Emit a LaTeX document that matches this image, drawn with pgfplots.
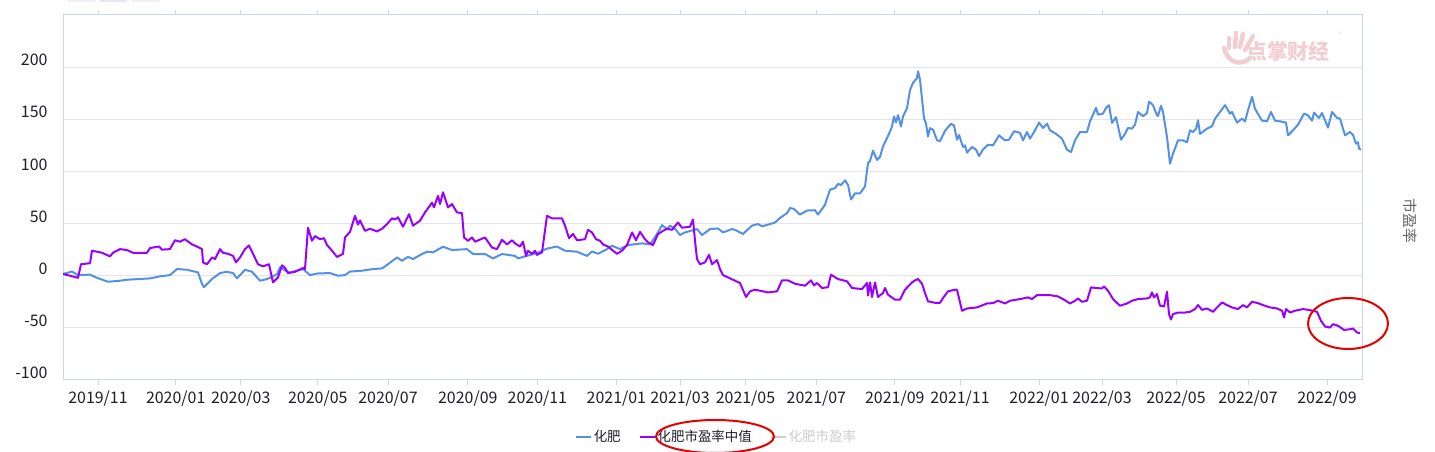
\documentclass[border=0pt]{standalone}
\usepackage{fontspec}
\setmainfont{Noto Sans CJK SC}
\usepackage{pgfplots}
\usepackage{pgfplotstable}
\pgfplotsset{compat=1.18}
\definecolor{cblue}{RGB}{84,145,230}
\definecolor{cpurple}{RGB}{153,0,255}
\definecolor{cgrid}{RGB}{224,230,241}
\definecolor{caxis}{RGB}{204,214,235}
\definecolor{cdis}{RGB}{204,204,204}
\definecolor{ctext}{RGB}{30,30,40}
\definecolor{cwm}{RGB}{242,205,210}
\definecolor{ctool}{RGB}{238,240,244}
\definecolor{ctoolb}{RGB}{228,232,246}
\definecolor{cname}{RGB}{102,102,102}

% x = position along the trading-day axis, y = value
\pgfplotstableread{
x y
0 1.6
9 4
15 0.6
27 1
34 -2
45 -5.8
57 -4.8
65 -3.8
87 -2.6
97 -0.6
107 0.6
114 6.4
124 5.7
135 3.2
139 -8
141 -11
149 -3.2
157 2.5
164 3.8
170 2.5
174 -2.5
182 5.7
189 3.8
197 -4.8
204 -3.2
210 -0.6
214 1.6
217 8
222 5
227 3
240 6.4
247 0.6
255 2.2
267 2.5
275 0
282 0.6
287 4
299 4.8
310 6.4
319 7
325 11
334 17.5
339 14.4
345 18
350 16
359 20.8
364 23
370 22.4
380 27.8
389 24.6
404 25.5
410 20.8
422 20.8
430 16.6
439 20.8
452 19
455 16.6
462 18.5
474 21.7
484 26
494 28
502 24
514 23
524 19
529 23.3
535 21
544 25.5
549 28.8
557 25.5
565 29.4
579 31
587 30
594 40
599 48.5
604 44.7
607 48
612 45
617 39
622 41.5
634 44.7
639 39
647 44.7
655 45.3
660 41.5
669 44.7
672 44
680 40
689 48
695 49.6
699 47.4
705 49
712 51
717 55.4
724 60
727 65
731 64
737 58.6
744 62.5
752 62.8
755 58.6
762 68
767 82.5
772 84
775 88
778 87
782 91.4
785 87
788 73
792 79
797 79
802 85.6
805 108
807 110
810 120
814 111
817 114
820 124
825 134
829 143
831 152.7
833 147
835 154
838 143
840 152.7
844 160.7
847 178
850 185
854 189.5
855 196
857 188
861 151
863 146
865 133.5
867 141.5
870 140
874 130
877 129
882 139
888 145.7
891 144
894 130.4
896 135
900 123.4
902 125
904 118
909 123.4
913 121
916 114.7
920 121
925 125.6
930 125
936 134.6
942 129.8
946 130.4
951 138.5
957 137
960 129.8
964 137.8
967 131.4
972 139.4
976 146.8
980 141.7
984 145.8
987 139.4
993 136
999 131.4
1004 120.8
1008 118.6
1012 129.8
1017 137.8
1024 137.8
1027 148
1033 161
1035 154.5
1040 155.4
1043 161
1046 163.5
1049 146.5
1053 152
1058 130.4
1062 136
1065 141.7
1069 141
1072 144.9
1075 157
1080 153
1084 156
1086 167
1090 163.5
1094 153.8
1095 153.2
1098 163
1100 157
1104 133
1107 107.4
1110 117
1115 129.8
1120 129.8
1124 128
1127 139.4
1130 137.8
1133 141
1135 149
1137 136
1144 141
1149 143.3
1152 150.6
1157 157
1162 163.5
1167 155.4
1169 157
1174 146.8
1179 150.6
1182 148
1185 158.6
1189 171.5
1192 160
1199 148.7
1204 148
1208 157
1212 148.7
1217 148
1223 146.8
1225 134.6
1230 139.4
1235 144.9
1241 155.4
1245 153.8
1249 148.7
1251 156.4
1256 151.3
1259 156
1265 142
1269 157
1274 151.3
1277 150.6
1282 134.6
1287 137.8
1290 135
1293 126.6
1295 128
1296 121.8
1298 121
}\bluedata

\pgfplotstableread{
x y
0 1.6
7 0
15 -2
18 11
27 12
29 24
39 22
47 18.5
50 22
57 25.5
64 24.6
70 22
84 22
87 26.5
96 28
99 25
107 25.5
112 34
117 32.6
122 35
129 30
134 28
139 25.5
140 12.8
144 11
149 17.5
152 16
157 25.5
160 22
165 21
170 19
173 12.8
177 17.5
182 25.5
186 29
190 21
195 11
200 9
206 11
210 -6.4
215 -1.6
219 10
222 7.5
225 2.5
232 3.8
240 7.3
242 6.4
245 46
249 33.5
252 38
257 35
261 36
264 29.4
269 24
274 18
280 21
282 36.7
287 42
292 57.5
295 49
297 53
302 43
307 45
314 42.5
319 45
324 49.5
329 55
332 54
335 56
340 47
346 59
350 48
357 52.7
362 60.7
369 70
371 65.5
375 76.7
377 68.7
380 80
385 65.5
389 68.7
394 60.7
399 60
401 36.7
405 33.5
409 36.7
412 32.6
422 36.7
429 27
434 25.5
439 34.5
444 30
449 34
452 31
457 28
460 32.6
463 19
465 24
469 21
472 24
474 20
479 22.4
484 57.5
489 55
499 55
502 48
506 36
510 40
514 34
522 35
525 44
529 41.5
533 35
537 33.5
540 30
545 28
550 24
554 21
559 24
564 29.4
569 41.5
573 34
577 42
582 35
585 32
590 29.4
595 40
600 43
604 45
609 44
615 51
619 46
627 47
630 54
632 33.5
634 16
637 11
642 12.8
646 20
649 11
654 15
657 6.4
660 0.6
667 -2.5
672 -4.8
677 -7
683 -20.4
687 -15
692 -13.4
705 -16
714 -15
719 -4.5
725 -4.5
732 -7.7
742 -9.6
748 -4.5
751 -9.3
754 -7
759 -11.8
765 -11
768 1
775 -3.2
784 -5.4
789 -11.8
799 -12.8
804 -7
805 -19
807 -6.4
809 -20.4
812 -6.4
815 -20.4
820 -16.6
822 -11.8
825 -18.2
832 -23
837 -23
842 -13.4
849 -6.4
852 -4.5
855 -3.2
859 -7.7
862 -16.6
865 -24.6
872 -26
877 -26
880 -21.4
885 -15
892 -13.4
894 -13.5
899 -33.6
904 -31.4
914 -30.4
924 -26.6
930 -26.3
935 -24
942 -26.6
947 -24
957 -22.4
965 -20.8
969 -22.4
974 -18.6
987 -18.6
995 -19.9
1000 -22.4
1007 -26.6
1012 -24
1015 -21.8
1019 -25
1024 -24
1028 -11.2
1034 -11.9
1039 -12.2
1041 -10.3
1045 -14.4
1050 -22.4
1057 -28.8
1064 -26.6
1069 -24
1075 -22.4
1084 -21.8
1087 -20.8
1089 -16
1091 -20.8
1094 -17.6
1097 -28.8
1101 -29.5
1104 -15.4
1106 -36.9
1108 -42
1110 -36.9
1115 -35.3
1122 -35.3
1127 -34.6
1132 -32
1135 -28.2
1139 -32.7
1144 -31.4
1150 -34.6
1154 -30.4
1159 -25.6
1164 -28.2
1169 -30.4
1175 -32
1180 -28.2
1184 -30.4
1189 -25
1195 -26.3
1200 -28.2
1207 -30.4
1214 -31.4
1219 -33.6
1221 -40
1223 -32
1227 -35.3
1232 -33.6
1240 -32
1247 -33
1254 -34.6
1258 -43.3
1262 -48.7
1267 -49.7
1270 -46.5
1275 -48
1281 -52
1287 -51.3
1290 -50.6
1294 -54.5
1297 -55
}\purpledata

\begin{document}
\begin{tikzpicture}[x=1bp,y=1bp]
\useasboundingbox (0,0) rectangle (1435,452);
% toolbar remnants at the top
\fill[ctool] (68,450) rectangle (95,452);
\fill[ctoolb] (100,450) rectangle (127,452);
\fill[ctool] (132,450) rectangle (159,452);
\begin{axis}[
  scale only axis,
  width=1299bp, height=365bp,
  at={(63bp,72bp)}, anchor=south west,
  xmin=0, xmax=1299, ymin=-100, ymax=250,
  ytick={-100,-50,0,50,100,150,200},
  yticklabels={-100,-50,0,50,100,150,200},
  xtick={35,112.7,177.7,254.8,325,404.8,474.4,553.4,617,682.5,753.4,831.8,897,976,1039,1113,1185,1264},
  xticklabels={2019/11,2020/01,2020/03,2020/05,2020/07,2020/09,2020/11,2021/01,2021/03,2021/05,2021/07,2021/09,2021/11,2022/01,2022/03,2022/05,2022/07,2022/09},
  ymajorgrids,
  grid style={draw=cgrid, line width=1bp},
  axis line style={draw=caxis, line width=1bp},
  tick align=outside,
  major tick length=5bp,
  xtick style={draw=caxis, line width=1bp},
  ytick style={draw=none},
  ticklabel style={font=\fontsize{16}{17}\selectfont, text=ctext},
  yticklabel style={yshift=7bp, xshift=-7bp},
  xticklabel style={yshift=-2bp},
  legend columns=3,
  legend style={at={(0.503,-0.156)}, anchor=center, draw=none, fill=none,
    font=\fontsize{13.5}{14}\selectfont, text=ctext,
    /tikz/every even column/.append style={column sep=16bp},
    inner sep=0pt},
  legend image code/.code={\draw[#1, line width=2bp] (0,0) -- (15bp,0);},
  no markers,
  every axis plot/.append style={line width=2bp, line join=round},
]
\addplot[cblue] table[x=x,y=y] {\bluedata};
\addlegendentry{化肥}
\addplot[cpurple] table[x=x,y=y] {\purpledata};
\addlegendentry{化肥市盈率中值}
\addlegendimage{cdis}
\addlegendentry{\textcolor{cdis}{化肥市盈率}}
% watermark
\node[text=cwm, font=\fontsize{21}{21}\bfseries\selectfont, anchor=center] at (rel axis cs:0.943,0.901) {点掌财经};
\node[text=cwm, font=\fontsize{7}{7}\selectfont] at (rel axis cs:0.983,0.945) {®};
\end{axis}
% hand in the watermark logo
\begin{scope}[cwm, line width=4.5bp, line cap=round]
\draw (1224,404) .. controls (1228,388) and (1242,386) .. (1250,394);
\draw (1229,414) -- (1229,404);
\draw (1236,419) -- (1235,405);
\draw (1243,418) -- (1240,405);
\draw (1253,416) -- (1245,402);
\end{scope}
% right axis name
\node[rotate=-90, text=cname, font=\fontsize{15}{15}\selectfont] at (1410,231) {市盈率};
% red ellipses
\draw[red!90!black, line width=2bp] (1348,128.5) ellipse [x radius=40, y radius=25.5];
\draw[red!90!black, line width=2bp] (715,15.5) ellipse [x radius=59, y radius=16.5];
\end{tikzpicture}
\end{document}
